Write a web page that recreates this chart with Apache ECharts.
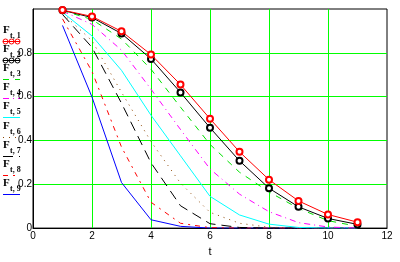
<!DOCTYPE html>
<html>
<head>
<meta charset="utf-8">
<script src="https://cdn.jsdelivr.net/npm/echarts@6/dist/echarts.min.js"></script>
<style>
  html, body { margin: 0; padding: 0; background: #fff; }
  #chart { width: 400px; height: 262px; }
</style>
</head>
<body>
<div id="chart"></div>
<script>
// t values (x axis)
const tVals = [1, 2, 3, 4, 5, 6, 7, 8, 9, 10, 11]

// F(t,k) for k = 1..9
const f1 = [0.995, 0.966, 0.898, 0.792, 0.655, 0.499, 0.348, 0.221, 0.124, 0.062, 0.027]
const f2 = [0.994, 0.961, 0.888, 0.772, 0.619, 0.458, 0.307, 0.182, 0.097, 0.044, 0.017]
const f3 = [0.993, 0.952, 0.863, 0.725, 0.552, 0.382, 0.255, 0.165, 0.090, 0.034, 0.008]
const f4 = [0.990, 0.930, 0.812, 0.634, 0.450, 0.270, 0.155, 0.075, 0.025, 0.005, 0.000]
const f5 = [0.985, 0.877, 0.720, 0.515, 0.330, 0.145, 0.060, 0.018, 0.003, 0.000, 0.000]
const f6 = [0.980, 0.855, 0.620, 0.395, 0.205, 0.072, 0.022, 0.004, 0.000, 0.000, 0.000]
const f7 = [0.975, 0.825, 0.570, 0.298, 0.102, 0.020, 0.003, 0.000, 0.000, 0.000, 0.000]
const f8 = [0.955, 0.715, 0.370, 0.118, 0.022, 0.002, 0.000, 0.000, 0.000, 0.000, 0.000]
const f9 = [0.925, 0.598, 0.208, 0.038, 0.008, 0.000, 0.000, 0.000, 0.000, 0.000, 0.000]

const seriesValues = [f1, f2, f3, f4, f5, f6, f7, f8, f9]
const legendSubs = ['t, 1', 't, 2', 't, 3', 't, 4', 't, 5', 't, 6', 't, 7', 't, 8', 't, 9']

const xTicks = [0, 2, 4, 6, 8, 10, 12]
const yTicks = [0, 0.2, 0.4, 0.6, 0.8, 1]

// trace styles
const colors = ['#ff0000', '#000000', '#00e000', '#ff00ff', '#00ffff', '#8b4500', '#000000', '#ff0000', '#0000ff']
const dashes = ['solid', 'solid', [6, 6], [6, 4, 1, 4], 'solid', [1, 5], [10, 6], [5, 5, 2, 5], 'solid']
const markers = [true, true, false, false, false, false, false, false, false]

const series = seriesValues.map((vals, i) => ({
  name: 'F' + legendSubs[i],
  type: 'line',
  data: tVals.map((t, j) => [t, vals[j]]),
  showSymbol: markers[i],
  symbol: markers[i] ? 'emptyCircle' : 'none',
  symbolSize: 6,
  itemStyle: { color: colors[i], borderWidth: 1 },
  lineStyle: { color: colors[i], width: 1, type: dashes[i] },
  z: 10 - i,
  animation: false
}))

// legend on the left, drawn by hand (label above, line sample below)
const graphic = []
for (let i = 0; i < 9; i++) {
  const ly = Math.round(41 + 19.1 * i)
  graphic.push({
    type: 'text', x: 3, y: ly - 11,
    style: { text: 'F', font: 'bold 11px "Liberation Serif"', fill: '#000', verticalAlign: 'middle' }
  })
  graphic.push({
    type: 'text', x: 10, y: ly - 5,
    style: { text: legendSubs[i], font: 'bold 8px "Liberation Serif"', fill: '#000', verticalAlign: 'middle' }
  })
  graphic.push({
    type: 'line',
    shape: { x1: 3, y1: ly + 0.5, x2: 20, y2: ly + 0.5 },
    style: { stroke: colors[i], lineWidth: 1, lineDash: dashes[i] === 'solid' ? null : dashes[i] }
  })
  if (markers[i]) {
    [5.5, 11.5, 17.5].forEach(cx => {
      graphic.push({
        type: 'circle',
        shape: { cx: cx, cy: ly + 0.5, r: 2.5 },
        style: { stroke: colors[i], fill: 'transparent', lineWidth: 1 }
      })
    })
  }
}

const option = {
  backgroundColor: '#fff',
  animation: false,
  grid: {
    left: 33, right: 13, top: 9, bottom: 28,
    show: true, borderColor: '#000', borderWidth: 1, backgroundColor: 'transparent'
  },
  xAxis: {
    type: 'value',
    min: xTicks[0], max: xTicks[xTicks.length - 1], interval: 2,
    name: 't',
    nameLocation: 'middle',
    nameGap: 17,
    nameTextStyle: { color: '#000', fontFamily: 'Liberation Sans', fontSize: 11 },
    axisLine: { show: true, lineStyle: { color: '#000', width: 1 } },
    axisTick: { show: false },
    axisLabel: { color: '#000', fontFamily: 'Liberation Sans', fontSize: 10, margin: 3 },
    splitLine: { show: true, showMinLine: false, showMaxLine: false, lineStyle: { color: '#00ff00', width: 1 } }
  },
  yAxis: {
    type: 'value',
    min: yTicks[0], max: yTicks[yTicks.length - 1], interval: 0.2,
    axisLine: { show: true, lineStyle: { color: '#000', width: 1 } },
    axisTick: { show: false },
    axisLabel: {
      color: '#000', fontFamily: 'Liberation Sans', fontSize: 10, margin: 1,
      formatter: v => (v >= 1 ? '' : (v === 0 ? '0' : v.toFixed(1)))
    },
    splitLine: { show: true, showMinLine: false, showMaxLine: false, lineStyle: { color: '#00ff00', width: 1 } }
  },
  graphic: graphic,
  series: series
}

const myChart = echarts.init(document.getElementById('chart'), null, { renderer: 'canvas' })
myChart.setOption(option)
</script>
</body>
</html>
